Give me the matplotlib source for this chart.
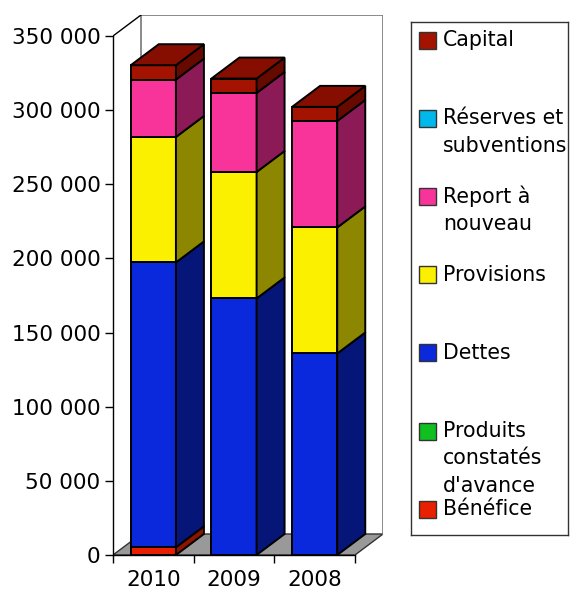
import matplotlib
matplotlib.use("Agg")
import matplotlib.pyplot as plt
from matplotlib.patches import Polygon, Rectangle

# data, stacked bottom to top
years = ["2010", "2009", "2008"]
series = ["Bénéfice", "Produits constatés d'avance", "Dettes", "Provisions",
          "Report à nouveau", "Réserves et subventions", "Capital"]
benefice = [5200, 0, 0]
produits = [0, 0, 0]
dettes = [192100, 173000, 135900]
provisions = [84600, 85300, 85000]
report = [38700, 53300, 71800]
reserves = [0, 0, 0]
capital = [9700, 9700, 9500]
values = [benefice, produits, dettes, provisions, report, reserves, capital]

yticks = [0, 50000, 100000, 150000, 200000, 250000, 300000, 350000]
ytick_labels = ["0", "50 000", "100 000", "150 000", "200 000",
                "250 000", "300 000", "350 000"]

legend_labels = [["Capital"], ["Réserves et", "subventions"],
                 ["Report à", "nouveau"], ["Provisions"], ["Dettes"],
                 ["Produits", "constatés", "d'avance"], ["Bénéfice"]]

front = ["#E82000", "#10C020", "#0A28DC", "#FBF000", "#F8339A", "#00B8EC", "#A31300"]
side = ["#8C1400", "#0A7014", "#061678", "#8C8600", "#8C1A57", "#006E8C", "#660A00"]
top = ["#B01800", "#0C9018", "#081EA8", "#C0B800", "#C02578", "#0090B8", "#850E00"]

W, H = 571, 590
fig = plt.figure(figsize=(W / 100, H / 100), dpi=100)

# plot area in pixels
left_px, right_px, bottom_px, top_px = 113, 383, 555, 15
ax = fig.add_axes([left_px / W, (H - bottom_px) / H,
                   (right_px - left_px) / W, (bottom_px - top_px) / H])
ymax = 350000
px_x = 242 / 3.0          # pixels per category
px_y = 519 / ymax         # pixels per value unit
dx = 28 / px_x            # depth offset in data units
dy = 21 / px_y
ax.set_xlim(0, (right_px - left_px) / px_x)
ax.set_ylim(0, (bottom_px - top_px) / px_y)

n = len(years)
# floor
ax.add_patch(Polygon([(0, 0), (n, 0), (n + dx, dy), (dx, dy)], closed=True,
                     facecolor="#999999", edgecolor="#333333", lw=1, zorder=1))
# walls
ax.plot([dx, dx, n + dx, n + dx], [dy, ymax + dy, ymax + dy, dy],
        color="#777777", lw=1.2, zorder=1)
ax.plot([0, dx], [ymax, ymax + dy], color="black", lw=1, zorder=1)

# bars
bw = 0.56
lw = 1.4
for i in range(n):
    x0 = i + (1 - bw) / 2
    x1 = x0 + bw
    base = 0
    last = None
    for k in range(len(series)):
        v = values[k][i]
        if v <= 0:
            continue
        y0, y1 = base, base + v
        ax.add_patch(Rectangle((x0, y0), bw, v, facecolor=front[k],
                               edgecolor="black", lw=lw, zorder=3))
        ax.add_patch(Polygon([(x1, y0), (x1 + dx, y0 + dy), (x1 + dx, y1 + dy), (x1, y1)],
                             closed=True, facecolor=side[k], edgecolor="black",
                             lw=lw, zorder=3))
        base = y1
        last = k
    ax.add_patch(Polygon([(x0, base), (x1, base), (x1 + dx, base + dy), (x0 + dx, base + dy)],
                         closed=True, facecolor=top[last], edgecolor="black",
                         lw=lw, zorder=3))

# axes
for s in ["top", "right"]:
    ax.spines[s].set_visible(False)
ax.spines["left"].set_bounds(0, ymax)
ax.spines["bottom"].set_bounds(0, n)
ax.spines["left"].set_linewidth(1)
ax.spines["bottom"].set_linewidth(1)
ax.spines["left"].set_zorder(4)
ax.set_yticks(yticks)
ax.set_yticklabels(ytick_labels, fontsize=15.5)
ax.set_xticks(range(n + 1))
ax.set_xticklabels([])
ax.set_xticks([i + 0.5 for i in range(n)], minor=True)
ax.set_xticklabels(years, minor=True, fontsize=15.5)
ax.tick_params(axis="y", length=6, width=1, pad=3)
ax.tick_params(axis="x", which="major", length=6, width=1)
ax.tick_params(axis="x", which="minor", length=0, pad=11)

# legend box
lx0, ly0, lx1, ly1 = 411, 22, 568, 535
lax = fig.add_axes([lx0 / W, (H - ly1) / H, (lx1 - lx0) / W, (ly1 - ly0) / H])
lax.set_xlim(0, lx1 - lx0)
lax.set_ylim(ly1 - ly0, 0)
lax.set_xticks([])
lax.set_yticks([])
for s in lax.spines.values():
    s.set_linewidth(1)
    s.set_edgecolor("#333333")
legend_colors = front[::-1]
for j, lines in enumerate(legend_labels):
    yc = 18 + j * 78.2
    lax.add_patch(Rectangle((8, yc - 8.5), 17, 17, facecolor=legend_colors[j],
                            edgecolor="#333333", lw=1))
    for m, t in enumerate(lines):
        lax.text(32, yc + m * 27.5, t, fontsize=14.8, va="center", ha="left")

fig.savefig("out.png", dpi=100)
